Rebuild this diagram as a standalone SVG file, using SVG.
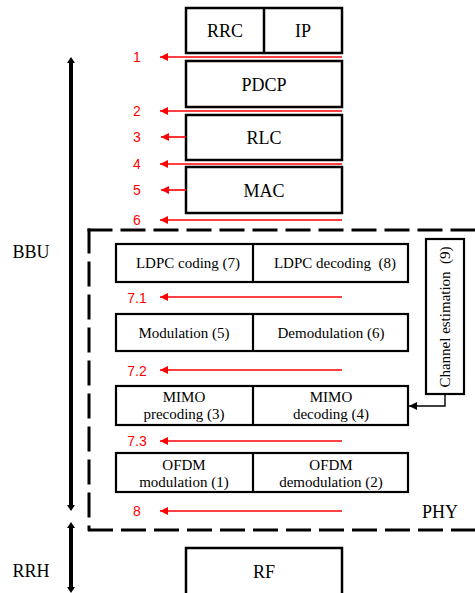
<svg xmlns="http://www.w3.org/2000/svg" width="475" height="593" viewBox="0 0 475 593">
<style>
.box{fill:#fff;stroke:#000;stroke-width:2.5}
.ibox{fill:#fff;stroke:#000;stroke-width:2.2}
.t{font-family:"Liberation Serif","Times New Roman",serif;fill:#000;text-anchor:middle}
.big{font-size:18px}
.sm{font-size:15px}
.red{font-family:"Liberation Sans",Arial,sans-serif;font-size:14px;fill:#ff0000;text-anchor:middle}
.ra{stroke:#ff0000;stroke-width:1.6;fill:none;marker-end:url(#rh)}
.dash{fill:none;stroke:#000;stroke-width:3;stroke-dasharray:25 8}
</style>
<defs>
<marker id="rh" viewBox="0 0 10 10" refX="10" refY="5" markerWidth="9" markerHeight="8" markerUnits="userSpaceOnUse" orient="auto">
<path d="M0,0 L10,5 L0,10 z" fill="#ff0000"/>
</marker>
<marker id="bh" viewBox="0 0 10 10" refX="10" refY="5" markerWidth="9" markerHeight="8" markerUnits="userSpaceOnUse" orient="auto">
<path d="M0,0 L10,5 L0,10 z" fill="#000"/>
</marker>
</defs>

<g id="bbu-bar">
<line x1="71" y1="63" x2="71" y2="505" stroke="#000" stroke-width="4"/>
<path d="M67,63 L71,57 L75,63 z M67,505 L71,511 L75,505 z" fill="#000"/>
<text class="t big" x="31" y="258">BBU</text>
</g>
<g id="rrh-bar">
<line x1="71" y1="528" x2="71" y2="587" stroke="#000" stroke-width="4"/>
<path d="M67,528 L71,522 L75,528 z M67,587 L71,593 L75,587 z" fill="#000"/>
<text class="t big" x="31" y="577">RRH</text>
</g>

<g id="phy">
<path class="dash" d="M87.5,230 L480,230"/>
<path class="dash" d="M89,228.5 L89,531"/>
<path class="dash" d="M88,530 L480,530"/>
<text class="t big" x="440" y="518">PHY</text>
</g>

<g id="rrc-ip">
<rect class="box" x="186" y="8" width="156" height="45"/>
<line x1="264" y1="8" x2="264" y2="53" stroke="#000" stroke-width="2.5"/>
<text class="t big" x="225" y="37">RRC</text>
<text class="t big" x="303" y="37">IP</text>
</g>
<g id="pdcp">
<rect class="box" x="186" y="61" width="156" height="46"/>
<text class="t big" x="264" y="91">PDCP</text>
</g>
<g id="rlc">
<rect class="box" x="186" y="115" width="156" height="45"/>
<text class="t big" x="264" y="144">RLC</text>
</g>
<g id="mac">
<rect class="box" x="186" y="167" width="156" height="46"/>
<text class="t big" x="264" y="197">MAC</text>
</g>

<g id="ldpc">
<rect class="ibox" x="116" y="244" width="292" height="38"/>
<line x1="253" y1="244" x2="253" y2="282" stroke="#000" stroke-width="2.2"/>
<text class="t sm" x="188" y="268">LDPC coding (7)</text>
<text class="t sm" x="335" y="268" xml:space="preserve">LDPC decoding  (8)</text>
</g>
<g id="modulation">
<rect class="ibox" x="116" y="314" width="292" height="37"/>
<line x1="253" y1="314" x2="253" y2="351" stroke="#000" stroke-width="2.2"/>
<text class="t sm" x="184" y="338">Modulation (5)</text>
<text class="t sm" x="331" y="338">Demodulation (6)</text>
</g>
<g id="mimo">
<rect class="ibox" x="116" y="386" width="292" height="39"/>
<line x1="253" y1="386" x2="253" y2="425" stroke="#000" stroke-width="2.2"/>
<text class="t sm" x="184" y="402">MIMO</text>
<text class="t sm" x="184" y="419">precoding (3)</text>
<text class="t sm" x="331" y="402">MIMO</text>
<text class="t sm" x="331" y="419">decoding (4)</text>
</g>
<g id="ofdm">
<rect class="ibox" x="116" y="453" width="292" height="39"/>
<line x1="253" y1="453" x2="253" y2="492" stroke="#000" stroke-width="2.2"/>
<text class="t sm" x="184" y="470">OFDM</text>
<text class="t sm" x="184" y="487">modulation (1)</text>
<text class="t sm" x="331" y="470">OFDM</text>
<text class="t sm" x="331" y="487">demodulation (2)</text>
</g>
<g id="channel-estimation">
<rect class="ibox" x="426" y="239" width="38" height="155"/>
<text class="t sm" xml:space="preserve" transform="translate(450,317) rotate(-90)">Channel estimation  (9)</text>
</g>
<g id="rf">
<rect class="box" x="186" y="548" width="156" height="50"/>
<text class="t big" x="264" y="578">RF</text>
</g>

<g id="connectors">
<line class="ra" x1="342" y1="57" x2="160" y2="57"/>
<line class="ra" x1="342" y1="111" x2="160" y2="111"/>
<line class="ra" x1="186" y1="137" x2="161" y2="137"/>
<line class="ra" x1="342" y1="164" x2="160" y2="164"/>
<line class="ra" x1="186" y1="190" x2="161" y2="190"/>
<line class="ra" x1="342" y1="220" x2="160" y2="220"/>
<line class="ra" x1="342" y1="297" x2="160" y2="297"/>
<line class="ra" x1="342" y1="370" x2="160" y2="370"/>
<line class="ra" x1="342" y1="441" x2="160" y2="441"/>
<line class="ra" x1="342" y1="511" x2="160" y2="511"/>
<path d="M445,394 L445,406 L409,406" fill="none" stroke="#000" stroke-width="1.4" marker-end="url(#bh)"/>
<text class="red" x="137" y="62">1</text>
<text class="red" x="137" y="116">2</text>
<text class="red" x="137" y="142">3</text>
<text class="red" x="137" y="169">4</text>
<text class="red" x="137" y="195">5</text>
<text class="red" x="137" y="225">6</text>
<text class="red" x="137" y="303">7.1</text>
<text class="red" x="137" y="376">7.2</text>
<text class="red" x="137" y="446">7.3</text>
<text class="red" x="137" y="516">8</text>
</g>
</svg>
